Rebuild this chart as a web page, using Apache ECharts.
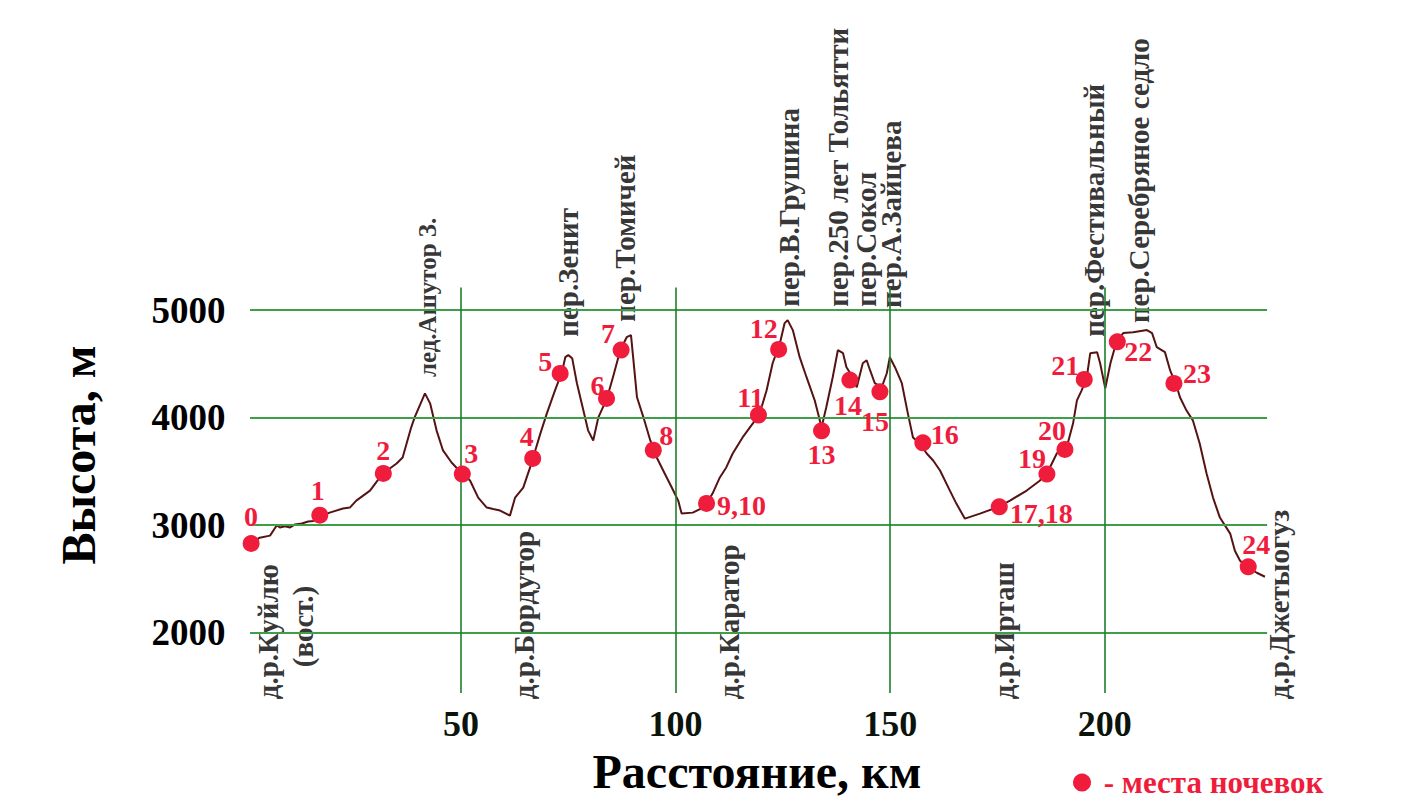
<!DOCTYPE html>
<html>
<head>
<meta charset="utf-8">
<title>Профиль маршрута</title>
<script src="https://cdn.jsdelivr.net/npm/echarts@6/dist/echarts.min.js"></script>
<style>
html,body{margin:0;padding:0;background:#fff;}
#chart{width:1427px;height:809px;}
</style>
</head>
<body>
<div id="chart"></div>
<script>
// ---------- DATA ----------
const xTicks = [50, 100, 150, 200];
const yTicks = [2000, 3000, 4000, 5000];

// elevation profile: distance (km) and altitude (m)
const profileKm = [1.1,3.1,5.5,7.1,7.8,9.0,10.2,11.3,12.9,14.4,15.6,16.6,19.4,22.5,24.1,25.6,28.8,31.8,35.0,36.4,38.4,39.2,41.6,42.8,44.3,45.8,47.8,50.2,52.1,54.0,56.0,57.5,59.1,61.4,62.6,64.5,66.1,67.3,68.5,70.0,71.9,73.5,74.3,75.0,75.9,77.0,78.5,79.6,80.8,82.0,84.0,85.4,87.1,88.6,89.6,90.1,91.0,92.5,94.1,95.6,97.1,99.1,100.6,101.4,104.0,106.4,107.2,108.6,110.3,111.8,113.3,115.6,118.0,119.6,121.2,122.6,124.3,125.4,126.1,127.3,128.9,130.5,132.4,134.0,135.1,136.6,137.8,139.0,139.8,141.3,142.2,143.6,144.5,145.3,146.4,148.0,149.2,149.9,151.1,152.7,154.1,155.3,156.9,158.5,160.0,161.6,163.9,165.4,167.4,170.9,174.8,177.9,181.8,184.9,187.2,188.8,191.1,192.6,193.5,194.6,195.8,196.6,198.2,198.9,200.1,201.3,202.8,204.3,206.6,209.8,211.0,212.1,214.0,215.2,216.8,217.5,219.0,220.5,222.1,223.7,225.2,226.8,229.2,230.3,231.5,233.4,235.4,237.3];
const profileElev = [2830,2884,2903,3000,2979,2991,2979,3007,3016,3035,3040,3071,3117,3155,3164,3229,3322,3481,3574,3630,3910,4003,4226,4133,3882,3695,3583,3481,3416,3257,3164,3150,3136,3089,3257,3350,3537,3695,3854,4040,4254,4422,4562,4581,4553,4320,4068,3882,3788,4003,4180,4376,4627,4748,4767,4562,4189,4003,3788,3630,3509,3350,3229,3108,3117,3164,3201,3294,3444,3537,3667,3816,3947,4040,4254,4506,4692,4879,4907,4814,4562,4376,4161,3910,4096,4376,4627,4599,4469,4376,4282,4506,4534,4441,4320,4282,4413,4562,4469,4320,4040,3816,3760,3667,3602,3509,3322,3201,3061,3108,3164,3229,3322,3416,3537,3667,3723,3947,4161,4254,4376,4599,4609,4506,4273,4506,4720,4786,4795,4814,4786,4655,4609,4441,4282,4189,4068,3975,3760,3481,3257,3071,2922,2763,2670,2605,2558,2521];

// camp sites (места ночевок)
const campNames = ['0','1','2','3','4','5','6','7','8','9,10','11','12','13','14','15','16','17,18','19','20','21','22','23','24'];
const campKm   = [1.1,17.1,31.9,50.3,66.7,73.1,83.9,87.3,94.8,107.2,119.3,124.0,134.0,140.6,147.6,157.6,175.4,186.5,190.7,195.2,202.9,216.1,233.4];
const campElev = [2830,3093,3481,3475,3621,4411,4179,4628,3698,3202,4024,4634,3878,4349,4240,3766,3171,3475,3704,4355,4705,4318,2613];

// passes (top) and river valleys (bottom)
const passNames = ['лед.Ашутор З.','пер.Зенит','пер.Томичей','пер.В.Грушина','пер.250 лет Тольятти','пер.Сокол','пер.А.Зайцева','пер.Фестивальный','пер.Серебряное седло'];
const passKm    = [42.3,74.9,88.2,126.4,137.8,144.4,150.2,197.5,207.9];
const valleyNames = ['д.р.Куйлю','(вост.)','д.р.Бордутор','д.р.Каратор','д.р.Ирташ','д.р.Джетыогуз'];
const valleyKm    = [5.0,13.2,64.7,112.4,176.5,240.6];

const legendText = '- места ночевок';
const xTitle = 'Расстояние, км';
const yTitle = 'Высота, м';

// ---------- LAYOUT (label placement only) ----------
const passLabelBase = [4377,4752,4891,5031,5031,5031,5020,4752,4879];
const passLabelSize = [25,29,29,29,29,29,29,29,29];
const valleyLabelBase = [1382,1680,1382,1382,1382,1382];
const campLabelOffset = [[0,-27],[-2,-25],[0,-23],[9,-21],[-6,-22],[-15,-12],[-9,-13],[-13,-17],[13,-15],[35,2],[-8,-18],[-15,-21],[0,24],[-2,25],[-5,30],[22,-8],[42,7],[-15,-16],[-13,-19],[-19,-14],[21,10],[23,-10],[8,-22]];

const FONT = "'Liberation Serif','Times New Roman',serif";
const RED = '#f01c3c';

const chart = echarts.init(document.getElementById('chart'), null, {renderer:'svg'});

const profileData = profileKm.map((k,i)=>[k, profileElev[i]]);
const campData = campKm.map((k,i)=>({
  value:[k, campElev[i]], name: campNames[i],
  label:{offset: campLabelOffset[i]}
}));
const placeData = passNames.map((n,i)=>({value:[passKm[i], passLabelBase[i]], name:n, label:{fontSize:passLabelSize[i]}}))
  .concat(valleyNames.map((n,i)=>({value:[valleyKm[i], valleyLabelBase[i]], name:n})));

const hStyle = {color:'#3f9f48', width:2, type:'solid'};
const vStyle = {color:'#1f7f2a', width:1.6, type:'solid'};
const gridLines = yTicks.map(v=>[{coord:[0.84, v], lineStyle:hStyle},{coord:[237.8, v]}])
  .concat(xTicks.map(v=>({xAxis:v, lineStyle:vStyle})));

const option = {
  backgroundColor:'#fff',
  animation:false,
  grid:{left:246.4, right:129, top:287.5, bottom:116, containLabel:false},
  xAxis:{
    type:'value', min:0, max:245,
    axisLine:{show:false}, axisTick:{show:false}, splitLine:{show:false},
    axisLabel:{customValues:xTicks, formatter:v=>String(v), fontFamily:FONT, fontWeight:'bold', fontSize:36, lineHeight:36, color:'#0a140a', margin:13}
  },
  yAxis:{
    type:'value', min:1440, max:5210,
    axisLine:{show:false}, axisTick:{show:false}, splitLine:{show:false},
    axisLabel:{customValues:yTicks, formatter:v=>String(v), fontFamily:FONT, fontWeight:'bold', fontSize:37, color:'#000', margin:21}
  },
  legend:{
    show:true, left:1068, top:762, icon:'circle', itemWidth:18, itemHeight:18,
    data:[legendText],
    formatter: n => ' ' + n,
    itemStyle:{opacity:1},
    textStyle:{fontFamily:FONT, fontWeight:'bold', fontSize:31, color:RED}
  },
  graphic:[
    {type:'text', x:78, y:455, rotation:Math.PI/2,
     style:{text:yTitle, font:"bold 48px 'Liberation Serif','Times New Roman',serif", fill:'#000', align:'center', verticalAlign:'middle'}},
    {type:'text', x:757, y:771,
     style:{text:xTitle, font:"bold 48px 'Liberation Serif','Times New Roman',serif", lineHeight:48, fill:'#000', align:'center', verticalAlign:'middle'}}
  ],
  series:[
    {
      name:'grid', type:'line', data:[], z:1, silent:true,
      markLine:{silent:true, symbol:['none','none'], label:{show:false}, animation:false, data:gridLines}
    },
    {
      name:'profile', type:'line', data:profileData, z:3, silent:true,
      showSymbol:false, symbol:'none', smooth:false,
      lineStyle:{color:'#561313', width:2}
    },
    {
      name:legendText, type:'scatter', data:campData, z:5, silent:true,
      symbol:'circle', symbolSize:17, itemStyle:{color:RED, opacity:1},
      label:{show:true, position:'inside', formatter: p=>p.name,
        fontFamily:FONT, fontWeight:'bold', fontSize:28, color:RED, align:'center', verticalAlign:'middle'}
    },
    {
      name:'places', type:'scatter', data:placeData, z:4, silent:true, clip:false,
      symbolSize:1, itemStyle:{color:'rgba(0,0,0,0)'},
      label:{show:true, position:'inside', rotate:90, align:'left', verticalAlign:'middle',
        formatter:p=>p.name, fontFamily:FONT, fontWeight:'bold', fontSize:29, color:'#000'}
    }
  ]
};
chart.setOption(option);
</script>
</body>
</html>
